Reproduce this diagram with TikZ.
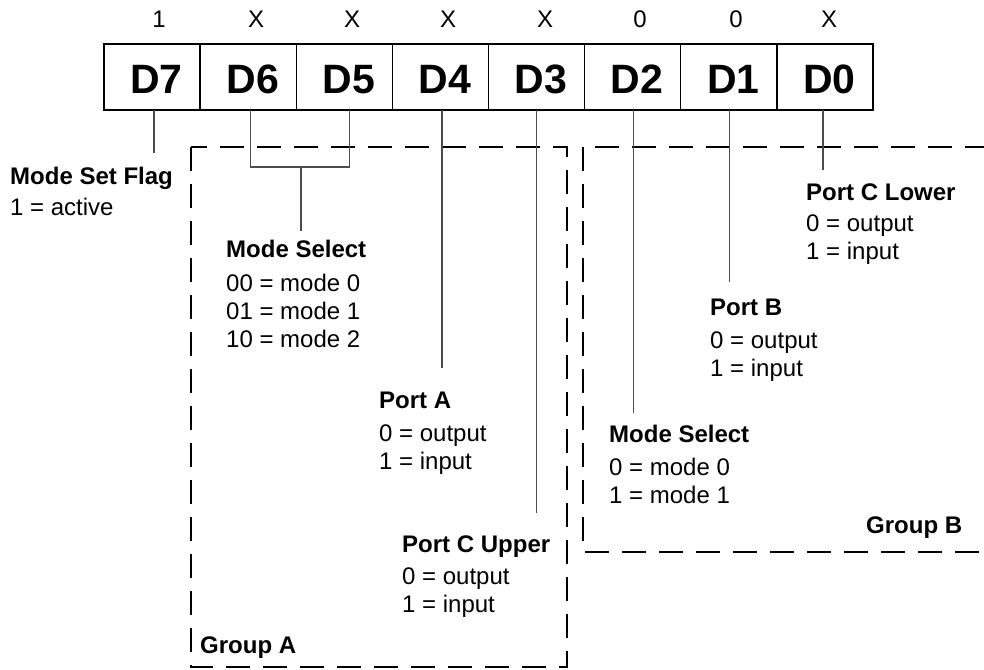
\documentclass[tikz,border=0pt]{standalone}
\usepackage{fontspec}
\setmainfont{Liberation Sans}
\usetikzlibrary{calc}
\begin{document}
\begin{tikzpicture}[x=1pt,y=-1pt,
  cell/.style={draw=black, line width=1.3pt, minimum width=96.125pt, minimum height=66pt, inner sep=0pt, outer sep=0pt, text height=32pt, text depth=0pt, font=\fontsize{41}{41}\selectfont\bfseries},
  bitval/.style={anchor=base, inner sep=0pt, font=\fontsize{24}{26}\selectfont},
  lbl/.style={anchor=base west, inner sep=0pt, font=\fontsize{24}{28}\selectfont},
  conn/.style={draw=black!70, line width=1.3pt},
  grp/.style={draw=black, line width=2.4pt, dash pattern=on 24pt off 13pt},
]
\useasboundingbox (0,0) rectangle (984,669);
\clip (0,0) rectangle (984,669);

% group boxes
\draw[grp] (191,147) rectangle (567,667);
\draw[grp] (583,147) rectangle (1010,552);

% register cells
\node[cell] (d7) at (152.06,77) {\hspace*{9pt}D7};
\node[cell] (d6) at (248.19,77) {\hspace*{9pt}D6};
\node[cell] (d5) at (344.31,77) {\hspace*{9pt}D5};
\node[cell] (d4) at (440.44,77) {\hspace*{9pt}D4};
\node[cell] (d3) at (536.56,77) {\hspace*{9pt}D3};
\node[cell] (d2) at (632.69,77) {\hspace*{9pt}D2};
\node[cell] (d1) at (728.81,77) {\hspace*{9pt}D1};
\node[cell] (d0) at (824.94,77) {\hspace*{9pt}D0};
\draw[line width=2.6pt] (d7.north west) rectangle (d0.south east);

% bit values
\node[bitval] (v7) at (159,28) {1};
\node[bitval] (v6) at (256,28) {X};
\node[bitval] (v5) at (352,28) {X};
\node[bitval] (v4) at (448,28) {X};
\node[bitval] (v3) at (545,28) {X};
\node[bitval] (v2) at (640,28) {0};
\node[bitval] (v1) at (736,28) {0};
\node[bitval] (v0) at (829,28) {X};

% labels
\node[lbl] (lflag) at (10,184) {\begin{tabular}[t]{@{}l@{}}\textbf{Mode Set Flag}\\[3pt]1 = active\end{tabular}};
\node[lbl] (lmodeA) at (226,257) {\begin{tabular}[t]{@{}l@{}}\textbf{Mode Select}\\[6pt]00 = mode 0\\01 = mode 1\\10 = mode 2\end{tabular}};
\node[lbl] (lportA) at (379,408) {\begin{tabular}[t]{@{}l@{}}\textbf{Port A}\\[5pt]0 = output\\1 = input\end{tabular}};
\node[lbl] (lportCU) at (402,552) {\begin{tabular}[t]{@{}l@{}}\textbf{Port C Upper}\\[4pt]0 = output\\1 = input\end{tabular}};
\node[lbl] (lportCL) at (806,200) {\begin{tabular}[t]{@{}l@{}}\textbf{Port C Lower}\\[3pt]0 = output\\1 = input\end{tabular}};
\node[lbl] (lportB) at (710,315) {\begin{tabular}[t]{@{}l@{}}\textbf{Port B}\\[5pt]0 = output\\1 = input\end{tabular}};
\node[lbl] (lmodeB) at (609,442) {\begin{tabular}[t]{@{}l@{}}\textbf{Mode Select}\\[5pt]0 = mode 0\\1 = mode 1\end{tabular}};
\node[lbl] (gA) at (200,653) {\textbf{Group A}};
\node[lbl] (gB) at (866,533) {\textbf{Group B}};

% connectors
\draw[conn, shorten >=11.4pt] ([xshift=2pt]d7.south) -- ([xshift=2pt]d7.south |- lflag.north);
\coordinate (jn) at (301,167);
\draw[conn] ([xshift=2pt]d6.south) |- (jn) -| ([xshift=5.5pt]d5.south);
\draw[conn, shorten >=6.4pt] (jn) -- (jn |- lmodeA.north);
\draw[conn, shorten >=20.4pt] ([xshift=1.5pt]d4.south) -- ([xshift=1.5pt]d4.south |- lportA.north);
\draw[conn, shorten >=19.4pt] (d3.south) -- (d3.south |- lportCU.north);
\draw[conn, shorten >=9.4pt] ([xshift=1pt]d2.south) -- ([xshift=1pt]d2.south |- lmodeB.north);
\draw[conn, shorten >=13.4pt] ([xshift=1pt]d1.south) -- ([xshift=1pt]d1.south |- lportB.north);
\draw[conn, shorten >=10.4pt] ([xshift=-2pt]d0.south) -- ([xshift=-2pt]d0.south |- lportCL.north);
\end{tikzpicture}
\end{document}
